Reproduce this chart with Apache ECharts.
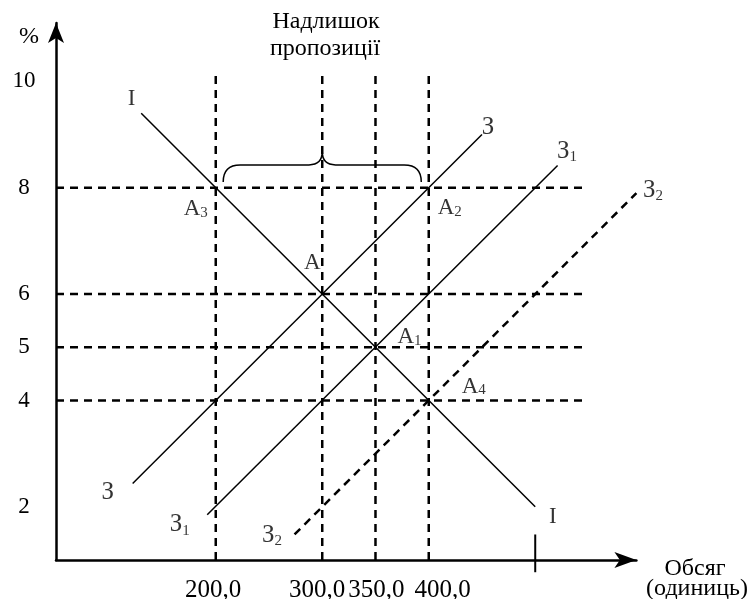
<!DOCTYPE html>
<html>
<head>
<meta charset="utf-8">
<script src="https://cdn.jsdelivr.net/npm/echarts@6/dist/echarts.min.js"></script>
<style>
html, body { margin: 0; padding: 0; background: #fff; }
#main { width: 752px; height: 599px; }
</style>
</head>
<body>
<div id="main"></div>
<script>
// дані графіка
const yTickValues = [10, 8, 6, 5, 4, 2];
const xTickValues = [200, 300, 350, 400];
const xTickLabels = ['200,0', '300,0', '350,0', '400,0'];
const guideX = [200, 300, 350, 400];   // вертикальні пунктири
const guideY = [8, 6, 5, 4];           // горизонтальні пунктири
const guideTop = 10.2;
const guideRight = 545;
const lineI = [[130, 9.4], [500, 2.0]];
const lineZ = [[122, 2.44], [450, 9.0]];
const lineZ1 = [[192, 1.85], [521, 8.42]];
const lineZ2 = [[274, 1.48], [595, 7.9]];
const pointNames = ['A', 'A1', 'A2', 'A3', 'A4'];
const pointX = [300, 350, 400, 200, 400];
const pointY = [6, 5, 8, 8, 4];
const braceX = [207, 300, 393];
const braceY = [8.11, 8.43, 8.68];
const markTick = [[500, 1.48], [500, 0.77]];

const X_MIN = 50, X_MAX = 595, Y_MIN = 1, Y_MAX = 11.1;
const FONT = 'Liberation Serif';

// зсуви підписів (пікселі)
const pointOffsets = { A: [-10, -31], A1: [34, -10], A2: [21, 20], A3: [-20, 21], A4: [45, -14] };
const xLabelPads = [[0, 5, 0, 0], [0, 10, 0, 0], [0, 0, 0, 2], [0, 0, 0, 28]];

const rich = {
    m: { fontFamily: FONT, fontSize: 23, lineHeight: 24, color: '#000' },
    s: { fontFamily: FONT, fontSize: 15, lineHeight: 15, padding: [8, 0, 0, 0], color: '#000' },
    z: { fontFamily: FONT, fontSize: 25, lineHeight: 28, color: '#000' },
    zs: { fontFamily: FONT, fontSize: 15, lineHeight: 15, padding: [12, 0, 0, 0], color: '#000' }
};

const labelItem = (coord, text, offset) => ({
    value: coord,
    label: {
        show: true, position: 'inside', formatter: text, offset: offset, rich: rich,
        color: '#000', textBorderWidth: 0, textShadowBlur: 0
    }
});

const labelData = [];
pointNames.forEach((n, i) => {
    const txt = n.length > 1 ? '{m|A}{s|' + n.slice(1) + '}' : '{m|A}';
    labelData.push(labelItem([pointX[i], pointY[i]], txt, pointOffsets[n]));
});
labelData.push(labelItem(lineI[0], '{m|I}', [-9.5, -14]));
labelData.push(labelItem(lineI[1], '{m|I}', [17.5, 10]));
labelData.push(labelItem(lineZ[0], '{z|З}', [-25, 9]));
labelData.push(labelItem(lineZ[1], '{z|З}', [6, -7]));
labelData.push(labelItem(lineZ1[0], '{z|З}{zs|1}', [-27.5, 10]));
labelData.push(labelItem(lineZ1[1], '{z|З}{zs|1}', [9.5, -14]));
labelData.push(labelItem(lineZ2[0], '{z|З}{zs|2}', [-22.5, 1]));
labelData.push(labelItem(lineZ2[1], '{z|З}{zs|2}', [16.5, -3]));

const dashed = { type: [8, 6], width: 2.5, color: '#000' };
const solid = { type: 'solid', width: 1.5, color: '#000' };

const series = [];
guideX.forEach(x => {
    series.push({ type: 'line', data: [[x, Y_MIN], [x, guideTop]], symbol: 'none', lineStyle: dashed, silent: true });
});
guideY.forEach(y => {
    series.push({ type: 'line', data: [[X_MIN, y], [guideRight, y]], symbol: 'none', lineStyle: dashed, silent: true });
});
series.push({ type: 'line', data: lineI, symbol: 'none', lineStyle: solid });
series.push({ type: 'line', data: lineZ, symbol: 'none', lineStyle: solid });
series.push({ type: 'line', data: lineZ1, symbol: 'none', lineStyle: solid });
series.push({ type: 'line', data: lineZ2, symbol: 'none', lineStyle: dashed, clip: false });
series.push({ type: 'line', data: markTick, symbol: 'none', lineStyle: { width: 2, color: '#000' }, clip: false });
// фігурна дужка
series.push({
    type: 'custom',
    data: [[braceX[0], braceX[1], braceX[2], braceY[0], braceY[1], braceY[2]]],
    renderItem: (params, api) => {
        const l = api.coord([api.value(0), api.value(3)]);
        const h = api.coord([api.value(1), api.value(4)]);
        const r = api.coord([api.value(2), api.value(3)]);
        const t = api.coord([api.value(1), api.value(5)]);
        const re = l[1] - h[1];
        const rt = h[1] - t[1];
        const d = 'M' + l[0] + ',' + l[1] +
            ' Q' + l[0] + ',' + h[1] + ' ' + (l[0] + re) + ',' + h[1] +
            ' L' + (h[0] - rt) + ',' + h[1] +
            ' Q' + h[0] + ',' + h[1] + ' ' + h[0] + ',' + t[1] +
            ' Q' + h[0] + ',' + h[1] + ' ' + (h[0] + rt) + ',' + h[1] +
            ' L' + (r[0] - re) + ',' + h[1] +
            ' Q' + r[0] + ',' + h[1] + ' ' + r[0] + ',' + l[1];
        return { type: 'path', shape: { pathData: d }, style: { fill: 'none', stroke: '#000', lineWidth: 1.5 } };
    }
});
series.push({
    type: 'scatter',
    data: labelData,
    symbolSize: 1,
    itemStyle: { color: 'rgba(0,0,0,0)' },
    silent: true
});

var chartDom = document.getElementById('main');
var myChart = echarts.init(chartDom);
var option = {
    animation: false,
    backgroundColor: '#fff',
    grid: { left: 56, right: 115.6, top: 22.9, bottom: 39, containLabel: false, outerBoundsMode: 'none' },
    xAxis: {
        type: 'value',
        min: X_MIN,
        max: X_MAX,
        interval: 50,
        splitLine: { show: false },
        axisTick: { show: false },
        axisLine: {
            lineStyle: { color: '#000', width: 2.5 },
            symbol: ['none', 'arrow'],
            symbolSize: [12, 22]
        },
        axisLabel: {
            margin: 18,
            formatter: v => {
                const i = xTickValues.indexOf(v);
                return i < 0 ? '' : '{t' + i + '|' + xTickLabels[i] + '}';
            },
            rich: Object.fromEntries(xLabelPads.map((p, i) => ['t' + i,
                { fontFamily: FONT, fontSize: 25, color: '#000', padding: p }]))
        }
    },
    yAxis: {
        type: 'value',
        min: Y_MIN,
        max: Y_MAX,
        interval: 1,
        splitLine: { show: false },
        axisTick: { show: false },
        axisLine: {
            lineStyle: { color: '#000', width: 2.5 },
            symbol: ['none', 'arrow'],
            symbolSize: [12, 20]
        },
        axisLabel: {
            margin: 32,
            align: 'center',
            fontFamily: FONT,
            fontSize: 23,
            color: '#000',
            formatter: v => yTickValues.includes(v) ? String(v) : ''
        }
    },
    graphic: [
        { type: 'text', x: 326, y: 22, style: { text: 'Надлишок', font: '24px "Liberation Serif"', fill: '#000', align: 'center', verticalAlign: 'middle' } },
        { type: 'text', x: 325, y: 49, style: { text: 'пропозиції', font: '24px "Liberation Serif"', fill: '#000', align: 'center', verticalAlign: 'middle' } },
        { type: 'text', x: 29, y: 37, style: { text: '%', font: '24px "Liberation Serif"', fill: '#000', align: 'center', verticalAlign: 'middle' } },
        { type: 'text', x: 695, y: 569, style: { text: 'Обсяг', font: '24px "Liberation Serif"', fill: '#000', align: 'center', verticalAlign: 'middle' } },
        { type: 'text', x: 697, y: 589, style: { text: '(одиниць)', font: '24px "Liberation Serif"', fill: '#000', align: 'center', verticalAlign: 'middle' } }
    ],
    series: series
};
option && myChart.setOption(option);
</script>
</body>
</html>
